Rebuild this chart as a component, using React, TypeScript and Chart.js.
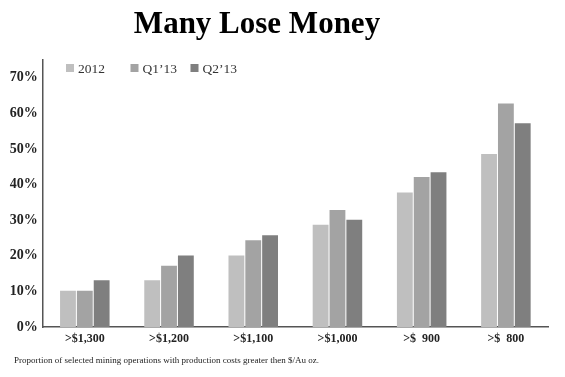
import React, { useEffect, useRef } from "react";
import { Chart, registerables } from "chart.js";

Chart.register(...registerables);

const categories = [">$1,300", ">$1,200", ">$1,100", ">$1,000", ">$  900", ">$  800"];
const seriesNames = ["2012", "Q1\u201913", "Q2\u201913"];
const values2012 = [10.2, 13.1, 20.1, 28.7, 37.8, 48.6];
const valuesQ113 = [10.2, 17.2, 24.4, 32.9, 42.1, 62.8];
const valuesQ213 = [13.1, 20.1, 25.8, 30.1, 43.5, 57.2];
const seriesColors = ["#bfbfbf", "#a3a3a3", "#7f7f7f"];
const yTicks = [0, 10, 20, 30, 40, 50, 60, 70];
const titleText = "Many Lose Money";
const footnoteText = "Proportion of selected mining operations with production costs greater then $/Au oz.";

const SERIF = "'Liberation Serif', 'Times New Roman', serif";

const decorPlugin = {
  id: "decor",
  afterDraw(chart: any) {
    const ctx = chart.ctx;
    ctx.save();
    // Title
    ctx.fillStyle = "#000";
    ctx.font = `bold 31px ${SERIF}`;
    ctx.textAlign = "center";
    ctx.textBaseline = "alphabetic";
    ctx.fillText(titleText, 257, 33);
    // Legend
    ctx.textAlign = "left";
    ctx.font = `13.5px ${SERIF}`;
    const boxX = [66, 130.5, 190.5];
    chart.data.datasets.forEach((ds: any, i: number) => {
      ctx.fillStyle = ds.backgroundColor;
      ctx.fillRect(boxX[i], 64, 8, 8);
      ctx.fillStyle = "#333";
      ctx.fillText(ds.label, boxX[i] + 12, 72.5);
    });
    // Footnote
    ctx.fillStyle = "#222";
    ctx.font = `9px ${SERIF}`;
    ctx.fillText(footnoteText, 14, 362.5);
    ctx.restore();
  },
};

export default function App() {
  const ref = useRef<HTMLCanvasElement | null>(null);
  useEffect(() => {
    if (!ref.current) return;
    const chart = new Chart(ref.current, {
      type: "bar",
      data: {
        labels: categories,
        datasets: [values2012, valuesQ113, valuesQ213].map((d, i) => ({
          label: seriesNames[i],
          data: d,
          backgroundColor: seriesColors[i],
          borderWidth: 0,
          categoryPercentage: 0.6,
          barPercentage: 0.94,
        })),
      },
      options: {
        responsive: false,
        animation: false,
        layout: { padding: { top: 60, right: 17, bottom: 20, left: 0 } },
        plugins: {
          legend: { display: false },
          title: { display: false },
          tooltip: { enabled: false },
        },
        scales: {
          x: {
            grid: { display: false, drawTicks: false },
            border: { display: true, color: "#555", width: 1.5 },
            ticks: {
              color: "#222",
              font: { family: SERIF, weight: "bold", size: 12 },
              padding: 5,
              maxRotation: 0,
              autoSkip: false,
            },
            afterFit: (s: any) => {
              s.height = 30;
            },
          },
          y: {
            min: 0,
            max: 75,
            grid: { display: false, drawTicks: false },
            border: { display: true, color: "#555", width: 1.5 },
            afterBuildTicks: (s: any) => {
              s.ticks = yTicks.map((v) => ({ value: v }));
            },
            ticks: {
              color: "#222",
              font: { family: SERIF, weight: "bold", size: 14 },
              padding: 5,
              callback: (v: any) => `${v}%`,
            },
            afterFit: (s: any) => {
              s.width = 42.7;
            },
          },
        },
      },
      plugins: [decorPlugin],
    });
    return () => chart.destroy();
  }, []);
  return (
    <div style={{ position: "fixed", left: 0, top: 0, width: 565, height: 377, background: "#fff" }}>
      <canvas ref={ref} width={565} height={377} style={{ display: "block", width: 565, height: 377 }} />
    </div>
  );
}
